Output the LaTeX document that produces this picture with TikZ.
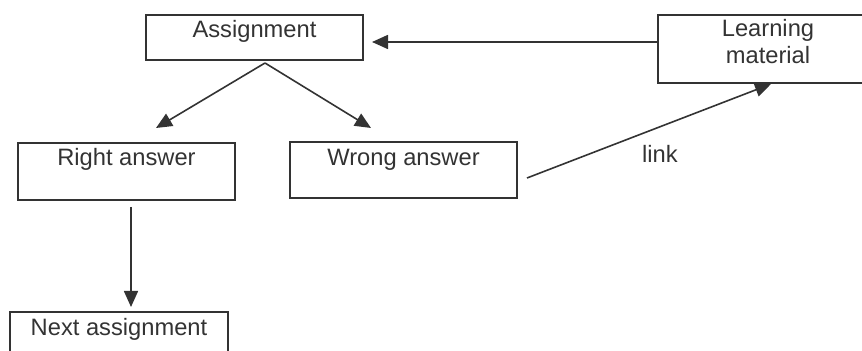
\documentclass[tikz,border=0pt]{standalone}
\usepackage{fontspec}
\setmainfont{Liberation Sans}
\usetikzlibrary{arrows.meta,calc}
\definecolor{ink}{HTML}{333333}
\begin{document}
\begin{tikzpicture}[x=0.5pt,y=-0.5pt,
  box/.style={draw=ink, line width=1pt, inner sep=0pt, anchor=north west,
    align=center, text=ink, font=\fontsize{11.85}{13.5}\selectfont},
  arr/.style={draw=ink, line width=0.8pt, -{Triangle[length=8pt,width=7pt]}},
  lbl/.style={text=ink, inner sep=0pt, font=\fontsize{11.85}{13.5}\selectfont}]
\useasboundingbox (0,0) rectangle (862,351);
\clip (0,0) rectangle (862,351);

% boxes (text height = distance from the top edge to the last baseline)
\node[box, minimum width=108.5pt, minimum height=22.5pt,
      text height=11.5pt, text depth=11pt] (asg) at (145,14) {Assignment};
\node[box, minimum width=108.5pt, minimum height=28.5pt,
      text height=11.5pt, text depth=17pt] (ra) at (17,142) {Right answer};
\node[box, minimum width=113.5pt, minimum height=28pt,
      text height=12pt, text depth=16pt] (wa) at (289,141) {Wrong answer};
\node[box, minimum width=109pt, minimum height=28.5pt,
      text height=12pt, text depth=16.5pt] (na) at (9,311) {Next assignment};
\node[box, minimum width=110pt, minimum height=34pt,
      text height=24.5pt, text depth=9.5pt] (lm) at (657,14) {Learning\\material};

\node[lbl, anchor=base] (lk) at (660,163) {link};

% connectors
\coordinate (fork) at ($(asg.south)+(10.5,2)$);
\draw[arr] (fork) -- ($(ra.north)+(29.5,-14)$);
\draw[arr] (fork) -- ($(wa.north)+(-32.5,-13)$);
\draw[arr] ($(ra.south)+(4.5,6)$) -- ($(na.north)+(12,-4)$);
\draw[arr] ($(lm.west)+(0,-7)$) -- ($(asg.east)+(8,4.5)$);
\draw[arr] ($(wa.east)+(9,8)$) -- ($(lm.south)+(3,0)$);
\end{tikzpicture}
\end{document}
